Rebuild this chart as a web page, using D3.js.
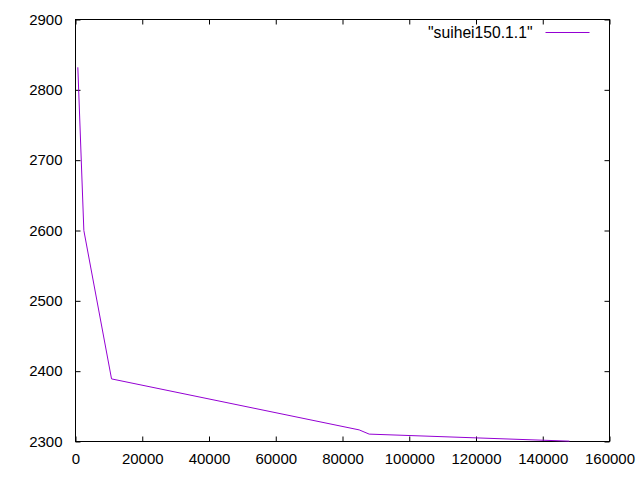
<!DOCTYPE html>
<html>
<head>
<meta charset="utf-8">
<script src="https://cdn.jsdelivr.net/npm/d3@7"></script>
<style>
  body { margin: 0; background: #fff; }
  svg { display: block; }
  .axis text { font-family: "Liberation Sans", Arial, sans-serif; font-size: 15px; fill: #000; }
  .axis path { display: none; }
  .axis line { stroke: #000; }
</style>
</head>
<body>
<div class="chart"></div>
<script>
// series "suihei150.1.1"
const xVals = [700, 2500, 10800, 85000, 88000, 148000];
const yVals = [2832, 2600, 2389, 2316.5, 2310.5, 2300.5];
const xTicks = [0, 20000, 40000, 60000, 80000, 100000, 120000, 140000, 160000];
const yTicks = [2300, 2400, 2500, 2600, 2700, 2800, 2900];
const seriesName = '"suihei150.1.1"';

const data = xVals.map((x, i) => ({x: x, y: yVals[i]}));

const W = 640, H = 480;
const margin = {top: 19, bottom: 39, left: 75, right: 31};
const width = W - margin.left - margin.right,
      height = H - margin.top - margin.bottom;

const svg = d3.select(".chart").append("svg")
    .attr("width", W)
    .attr("height", H)
  .append("g")
    .attr("transform", "translate(" + (margin.left + 0.5) + "," + (margin.top + 0.5) + ")");

let xScale = d3.scaleLinear().domain([0, 160000]).range([0, width]);
let yScale = d3.scaleLinear().domain([2300, 2900]).range([height, 0]);

const tick = 5;

svg.append("g")
    .attr("class", "axis x-axis")
    .attr("transform", `translate(0, ${height})`)
    .call(d3.axisBottom(xScale).tickValues(xTicks).tickFormat(d3.format("d"))
        .tickSizeInner(-tick).tickSizeOuter(0).tickPadding(12));

svg.append("g")
    .attr("class", "axis x-axis-top")
    .call(d3.axisTop(xScale).tickValues(xTicks).tickFormat("")
        .tickSizeInner(-tick).tickSizeOuter(0));

svg.append("g")
    .attr("class", "axis y-axis")
    .call(d3.axisLeft(yScale).tickValues(yTicks).tickFormat(d3.format("d"))
        .tickSizeInner(-tick).tickSizeOuter(0).tickPadding(13));

svg.append("g")
    .attr("class", "axis y-axis-right")
    .attr("transform", `translate(${width}, 0)`)
    .call(d3.axisRight(yScale).tickValues(yTicks).tickFormat("")
        .tickSizeInner(-tick).tickSizeOuter(0));

svg.append("rect")
    .attr("width", width)
    .attr("height", height)
    .attr("fill", "none")
    .attr("stroke", "#000");

const line = d3.line().x(d => xScale(d.x)).y(d => yScale(d.y));

svg.append("path")
    .datum(data)
    .attr("d", line)
    .attr("fill", "none")
    .attr("stroke", "#9400d3")
    .attr("stroke-width", 1);

// legend
svg.append("line")
    .attr("x1", 545 - margin.left)
    .attr("x2", 589 - margin.left)
    .attr("y1", 32 - margin.top)
    .attr("y2", 32 - margin.top)
    .attr("stroke", "#9400d3");

svg.append("text")
    .attr("x", 532 - margin.left)
    .attr("y", 37.5 - margin.top)
    .attr("text-anchor", "end")
    .style("font-family", '"Liberation Sans", Arial, sans-serif')
    .style("font-size", "15.7px")
    .text(seriesName);
</script>
</body>
</html>
